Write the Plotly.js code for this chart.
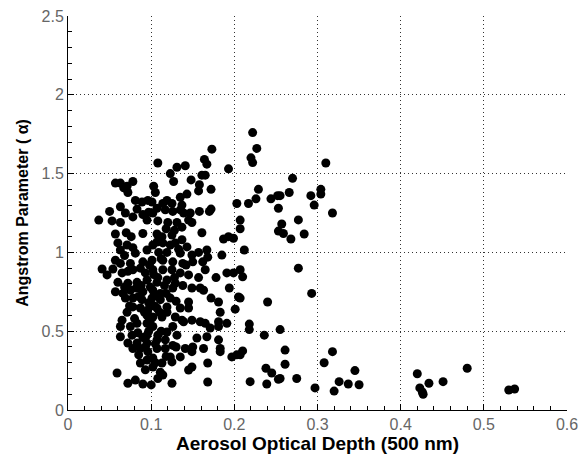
<!DOCTYPE html>
<html>
<head>
<meta charset="utf-8">
<script src="https://cdn.plot.ly/plotly-3.0.1.min.js"></script>
<style>html,body{margin:0;padding:0;background:#fff;}#chart{width:585px;height:455px;}</style>
</head>
<body>
<div id="chart"></div>
<script>
// Aerosol optical depth (500 nm) values
const aod = [
0.277,0.259,0.268,0.284,0.277,0.293,0.255,0.261,0.261,0.255,0.275,0.297,0.308,0.318,0.320,0.326,0.337,0.345,0.350,
0.420,0.423,0.426,0.427,0.434,0.451,0.480,0.530,0.537,
0.310,0.270,0.266,0.255,0.292,0.304,0.304,0.296,0.318,0.257,
0.222,0.227,0.220,0.222,0.229,0.226,0.217,0.244,0.252,0.253,0.207,0.253,0.212,
0.207,0.210,0.207,0.240,0.218,0.218,0.236,0.207,0.210,0.238,0.245,0.253,0.239,0.219,
0.108,0.173,0.193,0.164,0.167,0.131,0.141,0.123,0.161,0.165,0.148,0.127,0.172,0.158,0.157,0.143,
0.057,0.063,0.078,0.071,0.072,0.067,0.103,0.105,0.081,0.089,0.096,0.101,0.119,0.114,0.125,0.135,0.137,0.158,0.170,0.172,
0.063,0.069,0.050,0.037,0.053,0.063,0.083,0.078,0.090,0.097,0.102,0.107,0.095,0.117,0.126,0.135,0.139,0.147,0.145,0.149,0.131,0.120,
0.203,0.207,
0.057,0.070,0.090,0.107,0.113,0.125,0.137,0.161,0.187,0.193,0.199,
0.060,0.071,0.078,0.063,0.081,0.095,0.102,0.107,0.114,0.123,0.129,0.137,0.143,0.109,0.119,0.135,0.149,0.157,0.167,0.168,0.185,
0.162,0.150,0.138,0.126,0.114,0.101,0.090,0.057,0.063,0.075,
0.041,0.047,0.054,0.065,0.078,0.087,0.102,0.114,0.125,0.135,0.145,0.165,0.191,0.199,0.178,0.157,
0.060,0.072,0.083,0.095,0.107,0.119,0.129,0.138,0.126,0.159,0.149,0.163,0.194,
0.057,0.066,0.075,0.082,0.090,0.102,0.111,0.123,0.111,0.069,0.078,0.089,0.101,0.172,0.181,0.205,
0.201,0.183,0.145,0.145,0.135,0.119,0.107,0.096,0.087,0.078,0.071,0.095,0.102,0.113,0.119,0.129,0.137,0.149,0.159,0.165,0.181,0.191,0.181,0.171,
0.065,0.063,0.075,0.083,0.095,0.102,0.108,0.119,0.131,0.063,0.077,0.084,0.095,0.072,0.083,0.095,0.107,0.117,0.155,0.167,0.181,
0.078,0.087,0.096,0.107,0.117,0.126,0.141,0.149,0.150,0.163,0.183,0.183,0.197,0.203,
0.095,0.087,0.102,0.113,0.123,0.135,0.125,0.102,0.111,0.114,0.149,0.145,0.168,
0.059,0.072,0.081,0.090,0.100,0.125,0.168,
0.098,0.103,0.099,0.105,0.097,0.104,0.092,0.099,0.108,0.112,0.116,0.093,0.088,0.085,0.110,0.097,0.090,0.080,0.074,0.068,0.072,0.068,0.076,
0.118,0.108,0.128,0.133,0.142,0.128,0.118,0.130,0.139,0.126,0.112,0.105,0.093,0.085,0.118,0.130,0.105,0.093,0.108
];
// Angstrom parameter values
const angstrom = [
1.206,1.12,1.085,1.117,0.90,0.74,0.51,0.38,0.29,0.20,0.20,0.14,0.30,0.37,0.12,0.18,0.165,0.25,0.16,
0.23,0.14,0.115,0.10,0.17,0.18,0.265,0.127,0.133,
1.567,1.47,1.38,1.36,1.36,1.40,1.37,1.30,1.25,1.18,
1.76,1.66,1.60,1.57,1.40,1.34,1.31,1.34,1.36,1.28,1.15,1.135,1.015,
0.89,0.845,0.71,0.685,0.545,0.51,0.475,0.35,0.375,0.265,0.235,0.195,0.165,0.18,
1.567,1.655,1.53,1.59,1.56,1.54,1.55,1.50,1.49,1.49,1.46,1.45,1.40,1.43,1.39,1.37,
1.44,1.44,1.45,1.42,1.38,1.41,1.42,1.38,1.33,1.32,1.33,1.32,1.33,1.31,1.31,1.35,1.30,1.26,1.26,1.275,
1.29,1.25,1.26,1.205,1.20,1.19,1.275,1.225,1.24,1.255,1.25,1.28,1.205,1.27,1.26,1.27,1.25,1.25,1.205,1.19,1.19,1.19,
1.31,1.205,
1.117,1.125,1.12,1.117,1.10,1.11,1.16,1.125,1.085,1.10,1.09,
1.06,1.047,1.03,1.015,0.995,1.015,1.047,1.066,1.06,1.047,1.06,1.08,1.035,1.00,1.00,0.995,0.983,1.00,1.015,0.97,0.983,
0.94,0.94,0.93,0.94,0.95,0.95,0.94,0.95,0.93,0.93,
0.895,0.857,0.895,0.87,0.89,0.90,0.89,0.89,0.89,0.87,0.857,0.89,0.87,0.87,0.84,0.84,
0.81,0.805,0.81,0.825,0.81,0.825,0.805,0.79,0.774,0.774,0.774,0.76,0.774,
0.75,0.74,0.76,0.774,0.75,0.76,0.74,0.71,0.70,0.71,0.71,0.70,0.71,0.71,0.685,0.717,
0.64,0.62,0.647,0.685,0.647,0.654,0.647,0.635,0.647,0.654,0.62,0.60,0.59,0.59,0.62,0.59,0.57,0.57,0.56,0.55,0.56,0.55,0.53,0.52,
0.57,0.53,0.53,0.55,0.55,0.53,0.475,0.495,0.475,0.465,0.475,0.49,0.475,0.425,0.425,0.425,0.445,0.445,0.457,0.465,0.445,
0.39,0.39,0.37,0.39,0.39,0.41,0.39,0.37,0.40,0.39,0.39,0.37,0.337,0.35,
0.317,0.298,0.33,0.298,0.337,0.337,0.305,0.273,0.24,0.222,0.273,0.254,0.298,
0.235,0.17,0.19,0.165,0.159,0.17,0.178,
0.92,0.86,0.78,0.73,0.68,0.66,0.62,0.57,0.84,0.96,0.79,0.87,0.79,0.72,0.62,0.50,0.46,0.58,0.66,0.78,0.88,0.98,1.10,
1.15,1.20,1.14,1.02,0.92,0.84,0.74,0.69,0.56,0.53,0.50,0.42,0.40,0.35,0.34,0.40,0.30,0.255,0.20
];
const xTickVals = [0,0.1,0.2,0.3,0.4,0.5,0.6];
const xTickText = ['0','0.1','0.2','0.3','0.4','0.5','0.6'];
const yTickVals = [0,0.5,1,1.5,2,2.5];
const yTickText = ['0','0.5','1','1.5','2','2.5'];

const trace = {
  x: aod, y: angstrom, type: 'scatter', mode: 'markers',
  marker: {color: '#000', size: 9, line: {width: 0}},
  hoverinfo: 'skip'
};
const axisCommon = {
  showline: true, linecolor: '#000', linewidth: 1,
  ticks: 'inside', ticklen: 6, tickcolor: '#000',
  showgrid: true, gridcolor: '#333', griddash: '1px,3px', gridwidth: 1,
  zeroline: false,
  tickfont: {family: 'Liberation Sans, Arial', size: 16, color: '#666'}
};
const layout = {
  width: 585, height: 455,
  margin: {l: 68, r: 18, t: 16, b: 45},
  paper_bgcolor: '#fff', plot_bgcolor: '#fff',
  showlegend: false,
  xaxis: Object.assign({}, axisCommon, {
    range: [0, 0.6], tickvals: xTickVals, ticktext: xTickText,
    minor: {ticks: 'inside', dtick: 0.02, ticklen: 4, tickcolor: '#000', showgrid: false},
    title: {text: '<b>Aerosol Optical Depth (500 nm)</b>', standoff: 2,
      font: {family: 'Liberation Sans, Arial', size: 19, color: '#000'}}
  }),
  yaxis: Object.assign({}, axisCommon, {
    range: [0, 2.5], tickvals: yTickVals, ticktext: yTickText,
    minor: {ticks: 'inside', dtick: 0.1, ticklen: 4, tickcolor: '#000', showgrid: false},
    title: {text: '<b>Angstrom Parameter ( α)</b>', standoff: 8,
      font: {family: 'Liberation Sans, Arial', size: 16, color: '#000'}}
  })
};
Plotly.newPlot('chart', [trace], layout, {displayModeBar: false, staticPlot: true});
</script>
</body>
</html>
